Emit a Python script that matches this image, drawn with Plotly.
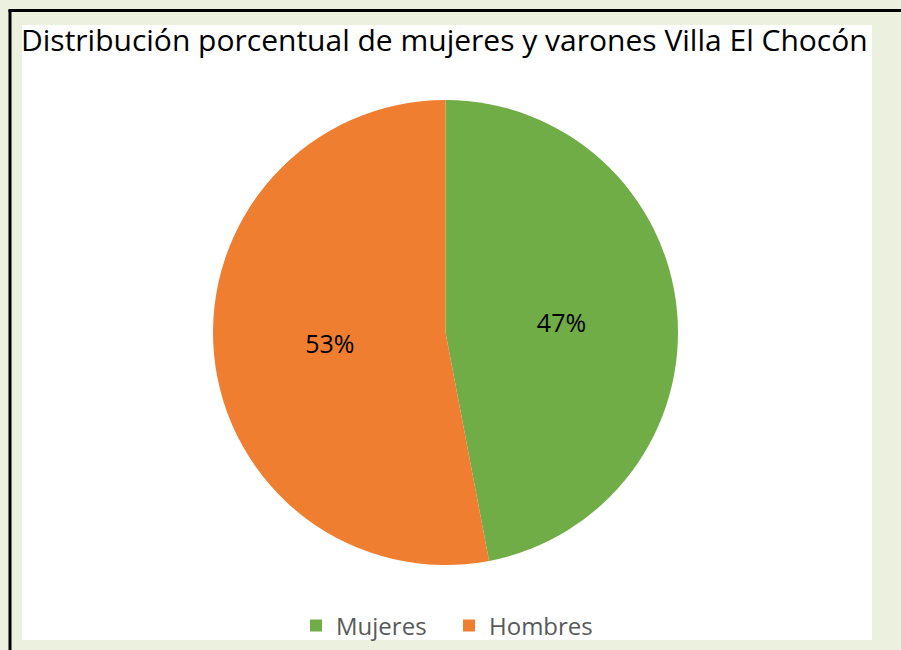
import plotly.graph_objects as go

labels = ["Mujeres", "Hombres"]
values = [47, 53]
colors = ["#70AD47", "#F07E30"]
title_text = "Distribución porcentual de mujeres y varones Villa El Chocón"

W, H = 901, 650

def px(x):
    return x / W

def py(y):
    return 1 - y / H

fig = go.Figure()
fig.add_trace(go.Pie(
    labels=labels,
    values=values,
    sort=False,
    direction="clockwise",
    rotation=0,
    marker=dict(colors=colors, line=dict(width=0)),
    textinfo="percent",
    texttemplate="%{percent:.0%}",
    textposition="inside",
    insidetextorientation="horizontal",
    insidetextfont=dict(color="#000000", size=25, family="Open Sans"),
    domain=dict(x=[px(213), px(678)], y=[py(565), py(100)]),
    hoverinfo="label+percent",
))

fig.update_layout(
    width=W, height=H,
    margin=dict(l=0, r=0, t=0, b=0),
    paper_bgcolor="#EBF1DE",
    plot_bgcolor="#EBF1DE",
    showlegend=True,
    legend=dict(
        orientation="h",
        x=px(296), xanchor="left",
        y=py(626), yanchor="middle",
        font=dict(size=24, color="#595959", family="Open Sans"),
        bgcolor="rgba(0,0,0,0)",
        entrywidth=108, entrywidthmode="pixels",
    ),
    title=dict(
        text=title_text,
        x=px(21), xanchor="left",
        y=py(40), yanchor="middle",
        font=dict(size=30, color="#000000", family="Open Sans"),
    ),
    shapes=[
        dict(type="rect", xref="paper", yref="paper",
             x0=px(22), x1=px(872), y0=py(640), y1=py(25),
             fillcolor="#FFFFFF", line=dict(width=0), layer="below"),
        dict(type="line", xref="paper", yref="paper",
             x0=px(10), x1=px(10), y0=0, y1=py(10),
             line=dict(color="#000000", width=3)),
        dict(type="line", xref="paper", yref="paper",
             x0=px(8.5), x1=1, y0=py(10.5), y1=py(10.5),
             line=dict(color="#000000", width=3)),
    ],
)

fig.write_html("out.html", post_script="document.body.style.margin='0';",
               config={"displayModeBar": False})
